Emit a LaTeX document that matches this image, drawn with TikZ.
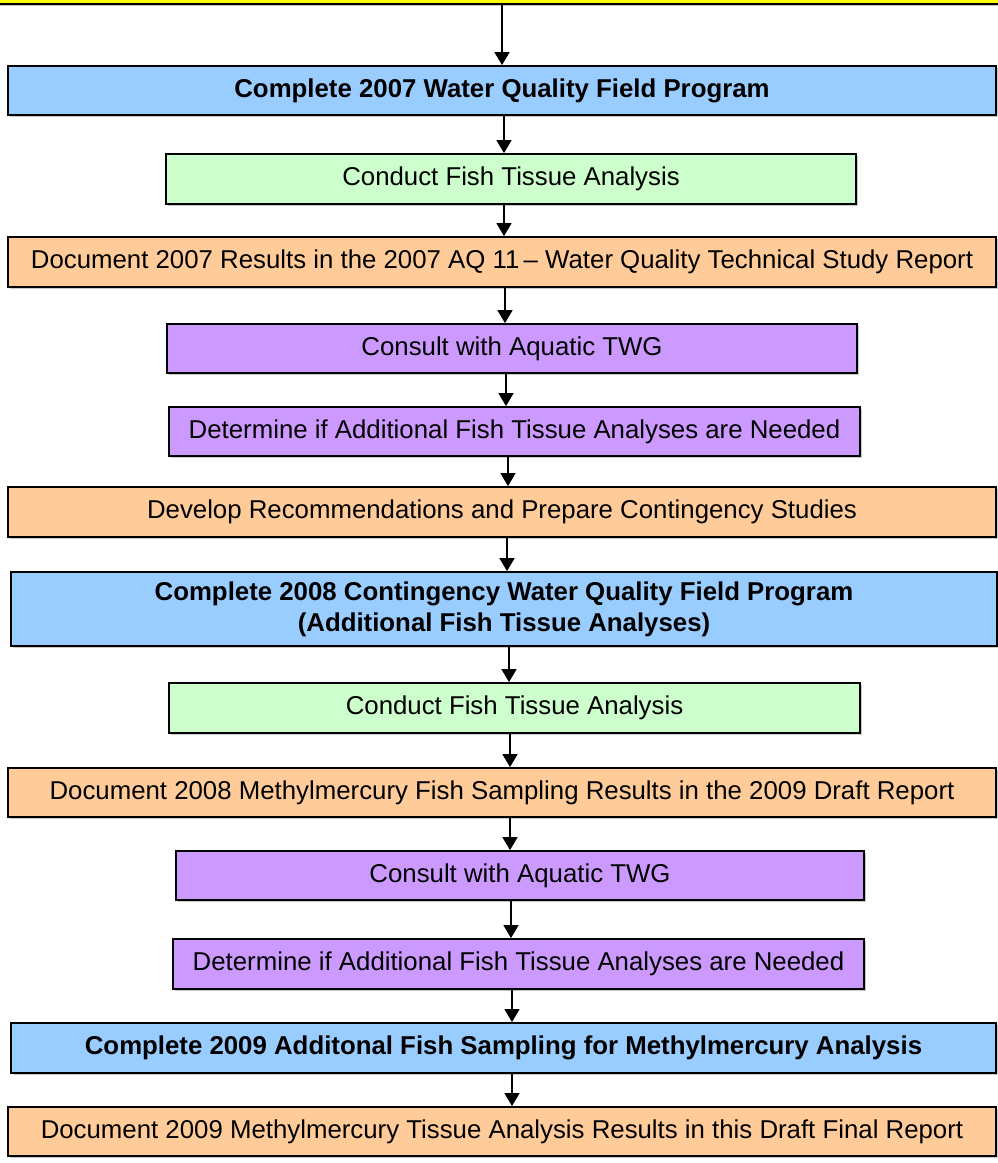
\documentclass[tikz,border=0pt]{standalone}
\usepackage{fontspec}
\setmainfont{Liberation Sans}
\usepackage{tikz}
\usetikzlibrary{arrows.meta, shadows}
\definecolor{progblue}{HTML}{99CCFF}
\definecolor{fishgreen}{HTML}{CCFFCC}
\definecolor{docorange}{HTML}{FFCC99}
\definecolor{twgpurple}{HTML}{CC99FF}
\definecolor{topyellow}{HTML}{FFFF00}
\tikzstyle{box}=[draw=black, line width=0.9pt, shape=rectangle, inner sep=0pt, align=center, font=\fontsize{12.9}{15.5}\selectfont, drop shadow={shadow xshift=0.8pt, shadow yshift=-0.8pt, fill=black!60, opacity=0.35}]
\tikzstyle{progbox}=[box, fill=progblue, font=\fontsize{12.9}{15.5}\selectfont\bfseries]
\tikzstyle{fishbox}=[box, fill=fishgreen]
\tikzstyle{docbox}=[box, fill=docorange]
\tikzstyle{twgbox}=[box, fill=twgpurple]
\tikzset{>={Triangle[width=7.5pt, length=6.5pt]}}

\begin{document}
\begin{tikzpicture}[x=0.5pt, y=-0.5pt]
\useasboundingbox (0,0) rectangle (997,1163);
% the yellow box above, cut by the page edge
\node[box, fill=topyellow, minimum width=509pt, minimum height=22pt] (top) at (498,-18) {};
% the 2007 steps
\node[progbox, minimum width=494pt, minimum height=24.5pt] (prog07) at (502,90.5) {Complete 2007 Water Quality Field Program};
\node[fishbox, minimum width=345pt, minimum height=25pt] (fish07) at (511,179) {Conduct Fish Tissue Analysis};
\node[docbox, minimum width=494pt, minimum height=25pt] (doc07) at (502,262) {Document 2007 Results in the 2007 AQ 11\,– Water Quality Technical Study Report};
\node[twgbox, minimum width=345pt, minimum height=24.5pt] (twg1) at (512,348.5) {Consult with Aquatic TWG};
\node[twgbox, minimum width=345.5pt, minimum height=24.5pt] (det1) at (514.5,431.5) {Determine if Additional Fish Tissue Analyses are Needed};
\node[docbox, minimum width=494pt, minimum height=25pt] (recom) at (502,512) {Develop Recommendations and Prepare Contingency Studies};
% the 2008 steps
\node[progbox, minimum width=493pt, minimum height=37pt] (prog08) at (504,609) {Complete 2008 Contingency Water Quality Field Program\\(Additional Fish Tissue Analyses)};
\node[fishbox, minimum width=345.5pt, minimum height=25pt] (fish08) at (514.5,708) {Conduct Fish Tissue Analysis};
\node[docbox, minimum width=494pt, minimum height=24.5pt] (doc08) at (502,792.5) {Document 2008 Methylmercury Fish Sampling Results in the 2009 Draft Report};
\node[twgbox, minimum width=344pt, minimum height=24.5pt] (twg2) at (520,875.5) {Consult with Aquatic TWG};
\node[twgbox, minimum width=345.5pt, minimum height=25pt] (det2) at (518.5,964) {Determine if Additional Fish Tissue Analyses are Needed};
% the 2009 steps
\node[progbox, minimum width=492.5pt, minimum height=25pt] (samp09) at (503.5,1048) {Complete 2009 Additonal Fish Sampling for Methylmercury Analysis};
\node[docbox, minimum width=494pt, minimum height=24.5pt] (doc09) at (502,1131.5) {Document 2009 Methylmercury Tissue Analysis Results in this Draft Final Report};
% the arrows
\foreach \a/\b/\x in {top/prog07/502, prog07/fish07/504, fish07/doc07/504, doc07/twg1/505, twg1/det1/506, det1/recom/508, recom/prog08/507, prog08/fish08/509, fish08/doc08/510, doc08/twg2/510, twg2/det2/511, det2/samp09/512, samp09/doc09/512}{
  \coordinate (ax) at (\x,0);
  \draw[thick, ->] (\a.south -| ax) -- (\b.north -| ax);
}
\end{tikzpicture}
\end{document}
